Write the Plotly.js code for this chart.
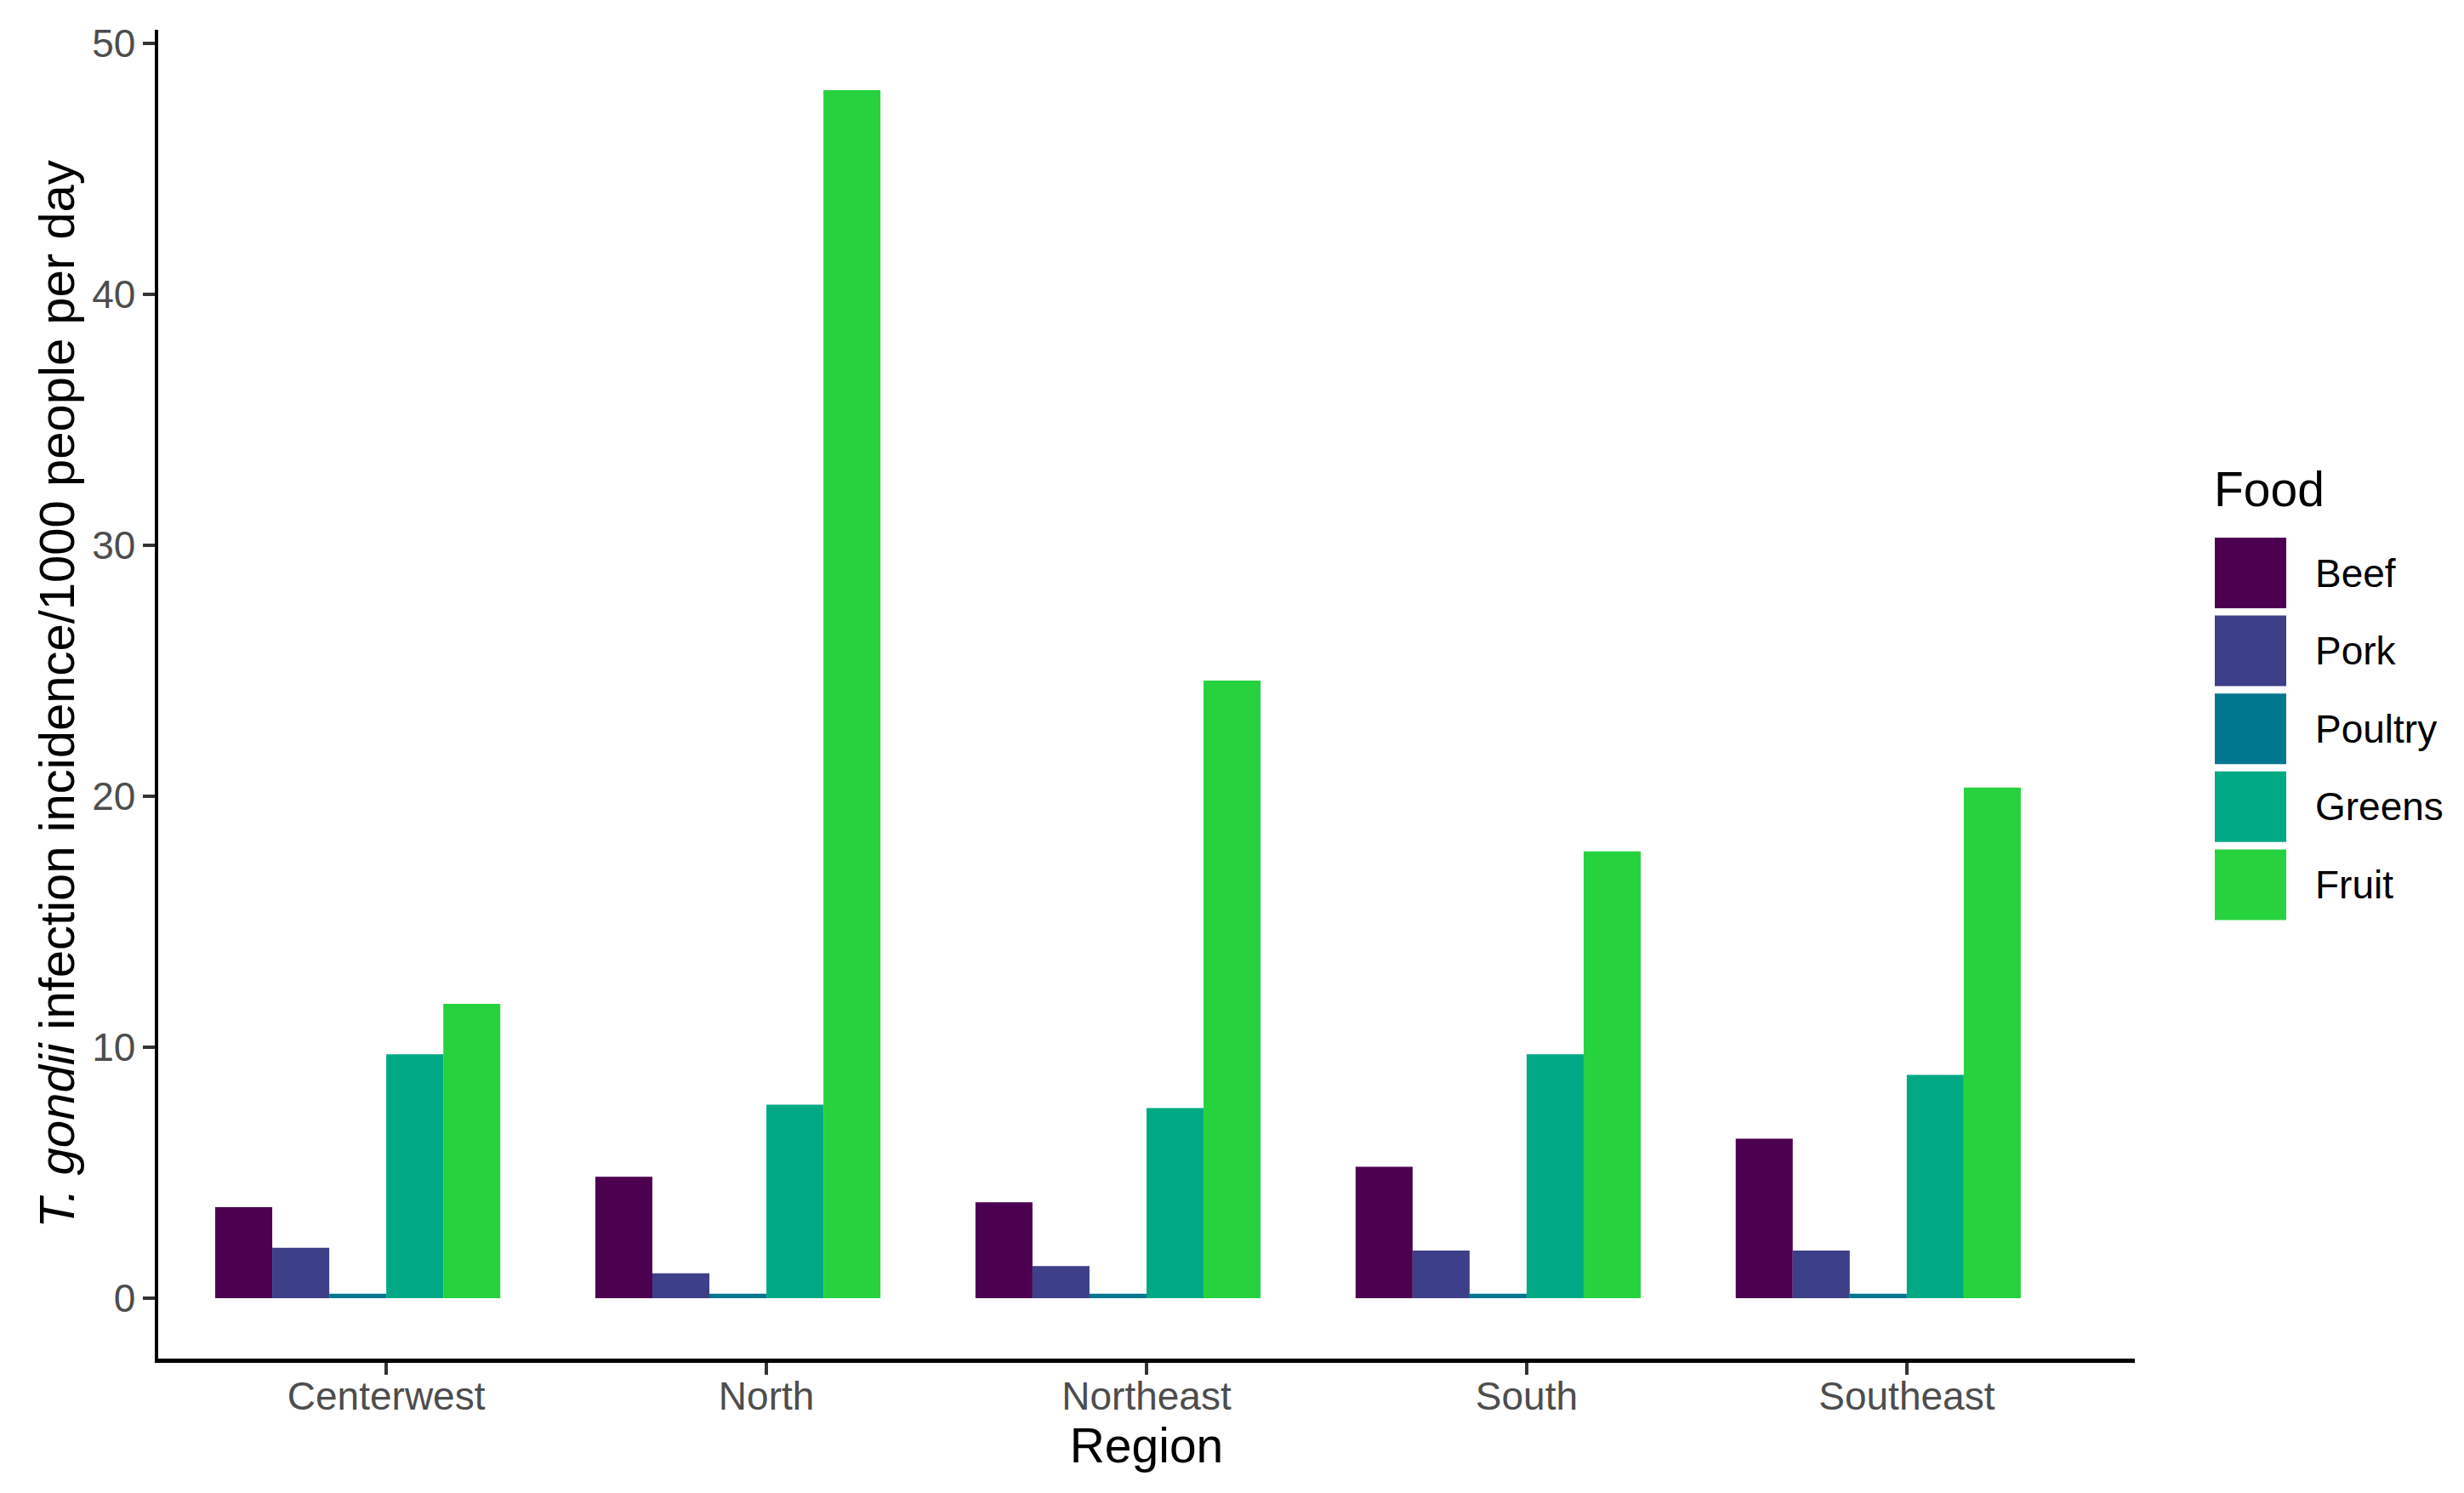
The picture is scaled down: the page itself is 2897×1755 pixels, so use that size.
<!DOCTYPE html>
<html>
<head>
<meta charset="utf-8">
<script src="https://cdn.plot.ly/plotly-3.0.1.min.js"></script>
<style>html,body{margin:0;padding:0;background:#fff;}#chart{width:2897px;height:1755px;}</style>
</head>
<body>
<div id="chart"></div>
<script>
// ---- data ----
const regions = ['Centerwest', 'North', 'Northeast', 'South', 'Southeast'];
const foods = ['Beef', 'Pork', 'Poultry', 'Greens', 'Fruit'];
const beef    = [3.63, 4.84, 3.82, 5.24, 6.36];
const pork    = [2.01, 0.99, 1.28, 1.90, 1.90];
const poultry = [0.18, 0.18, 0.18, 0.18, 0.18];
const greens  = [9.72, 7.71, 7.58, 9.72, 8.90];
const fruit   = [11.73, 48.14, 24.61, 17.81, 20.35];
const yTicks  = [0, 10, 20, 30, 40, 50];

// ---- styles ----
const colors = ['#4C0150', '#3D3F88', '#00778E', '#00A984', '#26D33F'];
const series = [beef, pork, poultry, greens, fruit];
const FONT = 'Liberation Sans, Arial, Helvetica, sans-serif';

const W = 2897, H = 1755;
const M = {l: 186, r: 387, t: 35, b: 158};
const PW = W - M.l - M.r, PH = H - M.t - M.b;
const px2x = p => (p - M.l) / PW;
const px2y = p => (H - M.b - p) / PH;

// 6 dodge slots of 0.15 width (last slot empty, as in the original)
const slotW = 0.15;
const traces = series.map((vals, i) => ({
  type: 'bar',
  name: foods[i],
  x: regions,
  y: vals,
  width: slotW,
  offset: -0.45 + i * slotW,
  marker: {color: colors[i], line: {width: 0}},
  showlegend: false
}));

// custom legend built from foods / colors
const shapes = [];
const annotations = [];
annotations.push({
  xref: 'paper', yref: 'paper', x: px2x(2601), y: px2y(575),
  xanchor: 'left', yanchor: 'middle', showarrow: false,
  text: 'Food', font: {family: FONT, size: 57, color: '#000'}
});
foods.forEach((f, i) => {
  const cy = 673.5 + i * 91.6;
  shapes.push({
    type: 'rect', xref: 'paper', yref: 'paper',
    x0: px2x(2604), x1: px2x(2688), y0: px2y(cy - 41.5), y1: px2y(cy + 41.5),
    fillcolor: colors[i], line: {width: 0}
  });
  annotations.push({
    xref: 'paper', yref: 'paper', x: px2x(2720), y: px2y(cy),
    xanchor: 'left', yanchor: 'middle', showarrow: false,
    text: f, font: {family: FONT, size: 46, color: '#000'}
  });
});

const layout = {
  width: W, height: H,
  margin: M,
  paper_bgcolor: '#fff', plot_bgcolor: '#fff',
  barmode: 'group',
  showlegend: false,
  font: {family: FONT},
  xaxis: {
    type: 'category',
    range: [-0.6, 4.6],
    showgrid: false, zeroline: false,
    showline: true, linecolor: '#000', linewidth: 4.5,
    ticks: 'outside', ticklen: 14, tickwidth: 4, tickcolor: '#333',
    tickfont: {family: FONT, size: 46, color: '#4D4D4D'},
    ticklabelstandoff: -14,
    title: {text: 'Region', font: {family: FONT, size: 57, color: '#000'}, standoff: 12},
    automargin: false
  },
  yaxis: {
    range: [-2.407, 50.547],
    tickvals: yTicks, ticktext: yTicks.map(String),
    showgrid: false, zeroline: false,
    showline: true, linecolor: '#000', linewidth: 4.5,
    ticks: 'outside', ticklen: 14, tickwidth: 4, tickcolor: '#333',
    tickfont: {family: FONT, size: 46, color: '#4D4D4D'},
    ticklabelstandoff: -1,
    title: {text: '<i>T. gondii</i> infection incidence/1000 people per day',
            font: {family: FONT, size: 58, color: '#000'}, standoff: 3},
    automargin: false
  },
  shapes: shapes,
  annotations: annotations
};

Plotly.newPlot('chart', traces, layout, {displayModeBar: false, staticPlot: true});
</script>
</body>
</html>
